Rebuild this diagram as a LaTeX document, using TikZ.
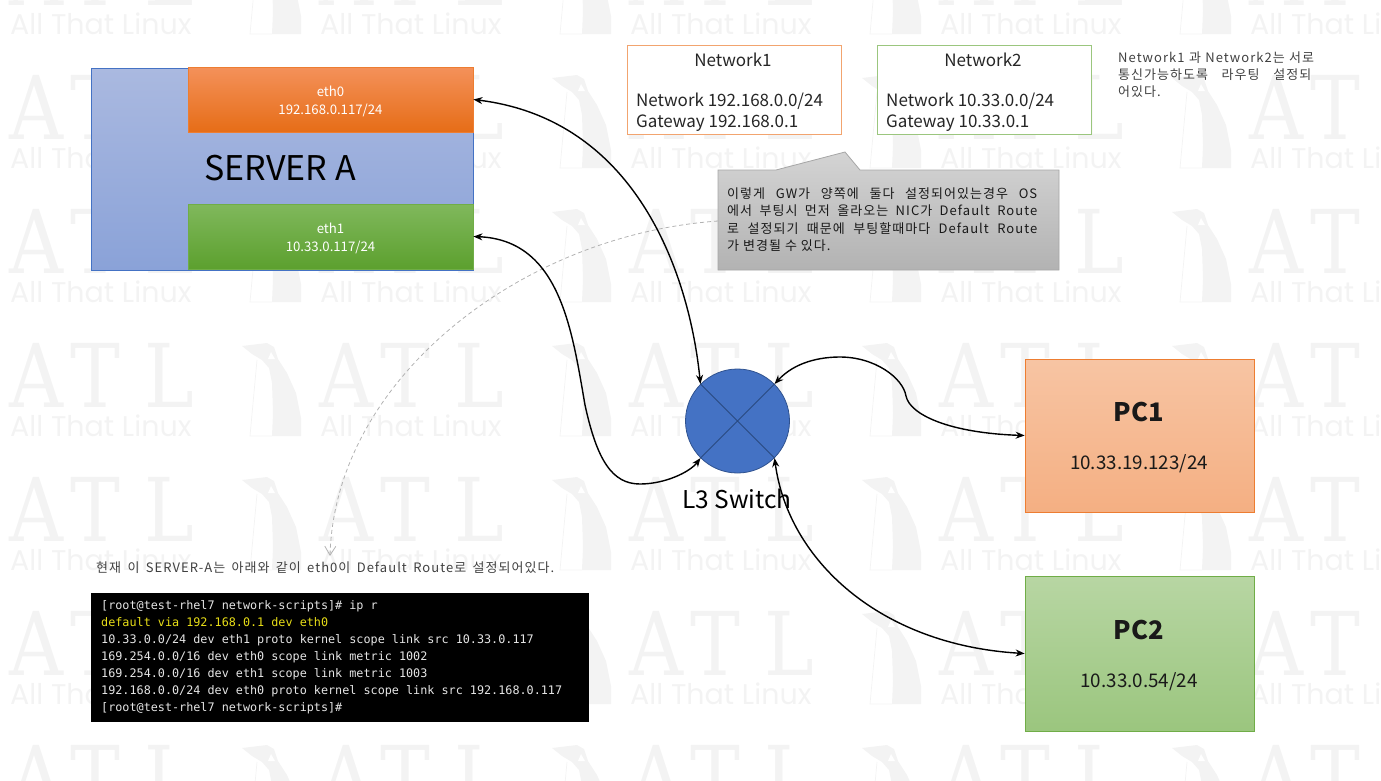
\documentclass[tikz,border=0pt]{standalone}
\usepackage{fontspec}
\setmainfont{Noto Sans CJK KR}
\setmonofont{DejaVu Sans Mono}
\newfontfamily\atlfont[FakeStretch=0.85]{DejaVu Serif}
\newfontfamily\markfont{Poppins}
\newfontfamily\notefont[LetterSpace=8]{Noto Sans CJK KR}
\usetikzlibrary{arrows.meta}
\definecolor{markgray}{HTML}{F3F3F3}
\definecolor{inkgray}{HTML}{262626}
\definecolor{srvtop}{HTML}{AAB9E0}
\definecolor{srvbot}{HTML}{8AA2D8}
\definecolor{blueline}{HTML}{4472C4}
\definecolor{darkblue}{HTML}{2F528F}
\definecolor{orangeline}{HTML}{ED7D31}
\definecolor{greenline}{HTML}{70AD47}
\definecolor{ethotop}{HTML}{F4915A}
\definecolor{ethomid}{HTML}{F37C2D}
\definecolor{ethobot}{HTML}{E66D17}
\definecolor{ethgtop}{HTML}{80B85C}
\definecolor{ethgmid}{HTML}{6BAF3B}
\definecolor{ethgbot}{HTML}{5CA02E}
\tikzset{
	box/.style={rectangle, inner sep=0pt, draw=#1, line width=0.8pt},
	wmark/.style={anchor=base west, inner sep=0pt, text=markgray},
	link/.style={draw=black, line width=1.4pt, {Stealth[length=9pt,width=7pt]}-{Stealth[length=9pt,width=7pt]}},
	note/.style={anchor=north west, inner sep=0pt, align=left, text=inkgray},
	port/.style={minimum width=285pt, minimum height=65pt, text=white, align=center, font=\fontsize{13.2}{18}\selectfont}
}
\begin{document}
\begin{tikzpicture}[x=1pt,y=-1pt]
	\useasboundingbox (0,0) rectangle (1381,780);

	% watermark
	\begin{scope}
		\clip (0,0) rectangle (1381,780);
		\foreach \r in {-59,75,209,343,477,611,745}
		\foreach \c in {10,320,630,940,1250} {
			\node[wmark,font=\atlfont\fontsize{88}{88}\selectfont] (a\c\r) at (\c-1,\r+64) {A};
			\node[wmark,font=\atlfont\fontsize{88}{88}\selectfont] (t\c\r) at (\c+60,\r+64) {T};
			\node[wmark,font=\atlfont\fontsize{88}{88}\selectfont] (l\c\r) at (\c+134,\r+64) {L};
			\node[wmark,font=\markfont\fontsize{28.5}{30}\selectfont] (m\c\r) at (\c,\r+93) {All That Linux};
			\begin{scope}[shift={(\c+232,\r)}]
				\fill[markgray] (0,3) -- (25,0) -- (32,4) -- (36,16) -- (45,30) -- (54,50) -- (59,75) -- (59,93) -- (30,93) -- (31,70) -- (30,40) -- (27,25) -- (20,17) -- (10,11) -- cycle;
				\fill[white] (29,9) -- (33,16) -- (26,16) -- cycle;
				\draw[markgray,line width=0.7pt] (15,17) -- (8,93) -- (30,93);
			\end{scope}
		}
	\end{scope}

	% server
	\node[box=blueline,minimum width=382pt,minimum height=202pt,top color=srvtop,bottom color=srvbot] (server) at (282,169) {};
	\node[box=orangeline,port,top color=ethotop,middle color=ethomid,bottom color=ethobot] (eth0) at (330.5,99.5) {\rule{0pt}{14pt}eth0\\192.168.0.117/24};
	\node[box=greenline,port,top color=ethgtop,middle color=ethgmid,bottom color=ethgbot] (eth1) at (330.5,236.5) {\rule{0pt}{14pt}eth1\\10.33.0.117/24};
	\node[inner sep=0pt,font=\fontsize{34}{36}\selectfont,text=black] (servername) at (280,168) {SERVER A};

	% networks
	\node[box=orangeline!70!white,fill=white,minimum width=214pt,minimum height=89pt] (net1) at (734,89.5) {};
	\node[box=greenline!70!white,fill=white,minimum width=214pt,minimum height=89pt] (net2) at (984,89.5) {};
	\begin{scope}[every node/.append style={font=\fontsize{17}{20.3}\selectfont,text=inkgray}]
		\node (net1title) at (733,60) {Network1};
		\node (net2title) at (983,60) {Network2};
		\node[note] (net1info) at (636,93) {Network 192.168.0.0/24\\Gateway 192.168.0.1};
		\node[note] (net2info) at (886,93) {Network 10.33.0.0/24\\Gateway 10.33.0.1};
	\end{scope}
	\node[note,font=\notefont\fontsize{13}{17}\selectfont,text=black!75] (routenote) at (1118,52) {%
		\makebox[196pt][s]{Network1 과 Network2는 서로}\\
		\makebox[193pt][s]{통신가능하도록 라우팅 설정되}\\
		어있다.};

	% dashed pointer goes under the callout
	\coordinate (memotail) at (330,556);
	\coordinate (memoedge) at (718,221);
	\draw[draw=black!30,line width=0.8pt,dash pattern=on 4pt off 3pt,-{Straight Barb[length=9pt,width=11pt]}] (memoedge) .. controls (520,235) and (335,380) .. (memotail);

	% callout
	\draw[draw=black!35,line width=0.8pt,top color=black!17,bottom color=black!30] (718,170) -- (776,170) -- (845,152) -- (860,170) -- (1059,170) -- (1059,270) -- (718,270) -- cycle;
	\node[note,font=\notefont\fontsize{13}{17.4}\selectfont,text=black!90] (memo) at (727,187.5) {%
		\makebox[310pt][s]{이렇게 GW가 양쪽에 둘다 설정되어있는경우 OS}\\
		\makebox[310pt][s]{에서 부팅시 먼저 올라오는 NIC가 Default Route}\\
		\makebox[310pt][s]{로 설정되기 때문에 부팅할때마다 Default Route}\\
		가 변경될 수 있다.};

	% switch
	\node[circle,draw=darkblue,fill=blueline,line width=0.8pt,minimum size=104pt,inner sep=0pt] (switch) at (737.5,421) {};
	\draw[draw=darkblue!90!black,line width=0.8pt] (switch.north west) -- (switch.south east) (switch.north east) -- (switch.south west);
	\node[inner sep=0pt,font=\fontsize{24.5}{26}\selectfont,text=black] (switchname) at (737,499) {L3 Switch};

	% pcs
	\node[box=orangeline,minimum width=229pt,minimum height=153pt,top color=orangeline!45!white!97!pink,bottom color=orangeline!62!white!95!pink] (pc1) at (1139.5,435.5) {};
	\node[box=greenline,minimum width=229pt,minimum height=155pt,top color=greenline!50!white,bottom color=greenline!70!white] (pc2) at (1139.5,653.5) {};
	\begin{scope}[every node/.append style={text=black!90}]
		\node[font=\fontsize{25.5}{30}\selectfont\bfseries] (pc1name) at (1139,412) {PC1};
		\node[font=\fontsize{18.8}{20}\selectfont] (pc1ip) at (1139,464) {10.33.19.123/24};
		\node[font=\fontsize{25.5}{30}\selectfont\bfseries] (pc2name) at (1139,630) {PC2};
		\node[font=\fontsize{18.8}{20}\selectfont] (pc2ip) at (1139,682) {10.33.0.54/24};
	\end{scope}

	% links
	\draw[link] (eth0.east) .. controls (640,120) and (690,280) .. (switch.north west);
	\draw[link] (eth1.east) .. controls (560,240) and (572,330) .. (585,405) .. controls (597,460) and (612,484) .. (640,484) .. controls (665,484) and (690,472) .. (switch.south west);
	\draw[link] (switch.north east) .. controls (795,362) and (820,357) .. (840,357) .. controls (875,357) and (903,378) .. (906,396) .. controls (910,415) and (950,433) .. (pc1.west);
	\draw[link] (switch.south east) .. controls (788,560) and (880,645) .. (pc2.west);

	% terminal
	\node[note,font=\notefont\fontsize{13}{17}\selectfont,text=black!75] (termnote) at (96,562) {\makebox[458pt][s]{현재 이 SERVER-A는 아래와 같이 eth0이 Default Route로 설정되어있다.}};
	\node[rectangle,fill=black,inner sep=0pt,minimum width=498pt,minimum height=129pt] (term) at (340,657.5) {};
	\node[note,text=black!10,font=\ttfamily\fontsize{11.78}{17}\selectfont] (termtext) at (101,600) {{[}root@test-rhel7 network-scripts]\# ip r\\
		\textcolor{yellow!90!black}{default via 192.168.0.1 dev eth0}\\
		10.33.0.0/24 dev eth1 proto kernel scope link src 10.33.0.117\\
		169.254.0.0/16 dev eth0 scope link metric 1002\\
		169.254.0.0/16 dev eth1 scope link metric 1003\\
		192.168.0.0/24 dev eth0 proto kernel scope link src 192.168.0.117\\
		{[}root@test-rhel7 network-scripts]\#};
\end{tikzpicture}
\end{document}
